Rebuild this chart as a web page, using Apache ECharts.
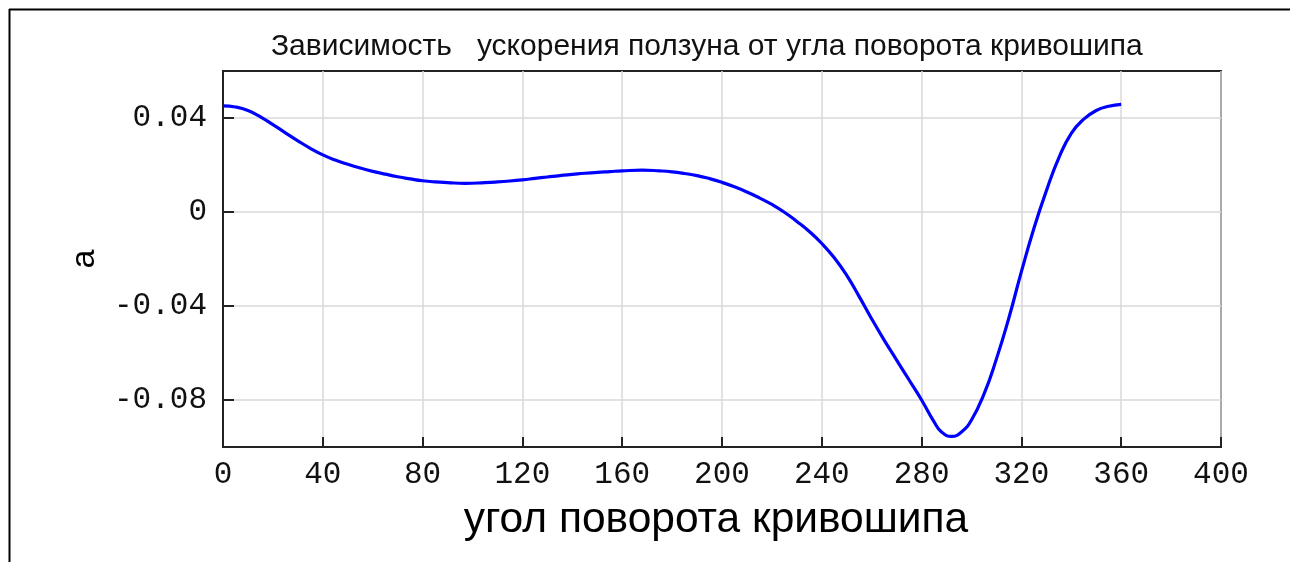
<!DOCTYPE html>
<html>
<head>
<meta charset="utf-8">
<script src="https://cdn.jsdelivr.net/npm/echarts@6/dist/echarts.min.js"></script>
<style>
html,body{margin:0;padding:0;background:#fff;}
#chart{width:1290px;height:562px;}
</style>
</head>
<body>
<div id="chart"></div>
<script>
// Data (crank angle, slider acceleration)
const angles = [0, 5, 10, 15, 20, 25, 30, 35, 40, 45, 50, 55, 60, 65, 70, 75, 80, 85, 90, 97,
  105, 110, 115, 120, 125, 130, 135, 140, 145, 150, 155, 160, 168, 175, 180, 185, 190, 195,
  200, 205, 210, 215, 220, 225, 230, 235, 240, 245, 250, 255, 260, 265, 270, 275, 280, 285, 288, 292, 296,
  300, 305, 310, 315, 320, 325, 330, 335, 340, 345, 350, 355, 360];
const accel = [0.0452, 0.0447, 0.0432, 0.0405, 0.0372, 0.0337, 0.0303, 0.0271, 0.0243, 0.0221,
  0.0203, 0.0187, 0.0173, 0.0161, 0.0150, 0.0141, 0.0133, 0.0128, 0.0125, 0.0122,
  0.0125, 0.0128, 0.0132, 0.0137, 0.0143, 0.0149, 0.0155, 0.0160, 0.0165,
  0.0169, 0.0172, 0.0175, 0.0178, 0.0175, 0.0171, 0.0164, 0.0155, 0.0142,
  0.0126, 0.0107, 0.0085, 0.0060, 0.0032, -0.0001, -0.0040, -0.0083, -0.0134, -0.0195,
  -0.0270, -0.0360, -0.0455, -0.0545, -0.0630, -0.0715, -0.0800, -0.0893, -0.0936, -0.0955, -0.0936,
  -0.0885, -0.0775, -0.0625, -0.0450, -0.0254, -0.0070, 0.0090, 0.0230, 0.0335, 0.0395,
  0.0432, 0.0450, 0.0458];
const yTicks = [-0.08, -0.04, 0, 0.04];
const titleText = 'Зависимость   ускорения ползуна от угла поворота кривошипа';
const xName = 'угол поворота кривошипа';
const yName = 'a';

const seriesData = angles.map((a, i) => [a, accel[i]]);

const chart = echarts.init(document.getElementById('chart'), null, {renderer: 'canvas'});
const monoFont = '"Liberation Mono", "DejaVu Sans Mono", monospace';
const sansFont = '"Liberation Sans", Arial, sans-serif';

chart.setOption({
  animation: false,
  backgroundColor: '#fff',
  title: {
    text: titleText,
    left: 266,
    top: 27,
    textStyle: {fontFamily: sansFont, fontSize: 30, fontWeight: 'normal', color: '#111'}
  },
  graphic: [
    {type: 'line', shape: {x1: 9, y1: 9.5, x2: 1290, y2: 9.5}, style: {stroke: '#000', lineWidth: 2}, silent: true},
    {type: 'line', shape: {x1: 9.5, y1: 9, x2: 9.5, y2: 562}, style: {stroke: '#000', lineWidth: 2}, silent: true}
  ],
  grid: {
    left: 223, top: 71, right: 69, bottom: 115,
    show: true, borderColor: '#222', borderWidth: 2, backgroundColor: 'transparent',
    containLabel: false
  },
  xAxis: {
    type: 'value', min: 0, max: 400, interval: 40,
    name: xName, nameLocation: 'middle', nameGap: 52,
    nameTextStyle: {fontFamily: sansFont, fontSize: 42.5, color: '#000', padding: [0, 12, 0, 0]},
    axisLine: {show: true, onZero: false, lineStyle: {color: '#222', width: 2}},
    axisTick: {show: true, inside: true, length: 10, lineStyle: {color: '#222', width: 2}},
    axisLabel: {fontFamily: monoFont, fontSize: 31, color: '#111', margin: 12},
    splitLine: {show: true, lineStyle: {color: '#d8d8d8', width: 1.5}}
  },
  yAxis: {
    type: 'value', min: -0.1, max: 0.06,
    name: yName, nameLocation: 'middle', nameGap: 121, nameRotate: 90,
    nameTextStyle: {fontFamily: sansFont, fontSize: 34, color: '#000'},
    axisLine: {show: true, onZero: false, lineStyle: {color: '#222', width: 2}},
    axisTick: {show: true, inside: true, length: 11, lineStyle: {color: '#222', width: 2}, customValues: yTicks},
    axisLabel: {fontFamily: monoFont, fontSize: 31, color: '#111', margin: 16, customValues: yTicks,
      formatter: v => (Math.abs(v) < 1e-12 ? '0' : String(+v.toFixed(2)))},
    splitLine: {show: true, lineStyle: {color: '#d8d8d8', width: 1.5}}
  },
  series: [{
    type: 'line',
    data: seriesData,
    smooth: 0.5,
    showSymbol: false,
    lineStyle: {color: '#0000ff', width: 3.2},
    clip: false
  }]
});
</script>
</body>
</html>
